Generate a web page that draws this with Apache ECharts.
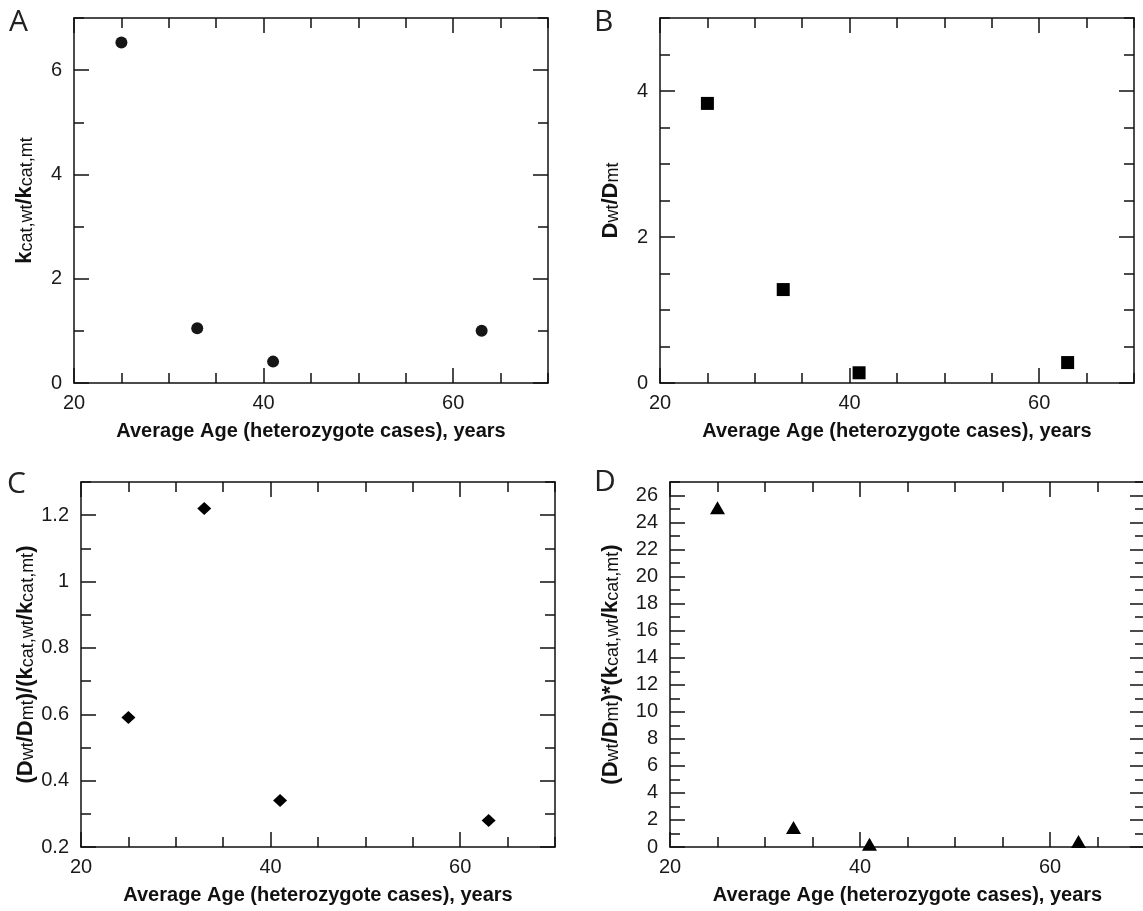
<!DOCTYPE html>
<html>
<head>
<meta charset="utf-8">
<script src="https://cdn.jsdelivr.net/npm/echarts@6/dist/echarts.min.js"></script>
<style>
html,body{margin:0;padding:0;background:#fff;}
#chart{width:1143px;height:911px;}
</style>
</head>
<body>
<div id="chart"></div>
<script>
// ---- data ----
const ages = [25, 33, 41, 63];
const kcatRatio = [6.53, 1.05, 0.41, 1.0];          // A
const dRatio = [3.83, 1.28, 0.14, 0.28];            // B
const dOverK = [0.59, 1.22, 0.34, 0.28];            // C
const dTimesK = [25.1, 1.45, 0.2, 0.4];             // D

// tick labels
const xTickLabels = [20, 40, 60];
const yTickLabelsA = [0, 2, 4, 6];
const yTickLabelsB = [0, 2, 4];
const yTickLabelsC = [0.2, 0.4, 0.6, 0.8, 1, 1.2];
const yTickLabelsD = [0, 2, 4, 6, 8, 10, 12, 14, 16, 18, 20, 22, 24, 26];

const xTitle = 'Average Age (heterozygote cases), years';

// ---- styling / layout ----
const FONT = "'Liberation Sans', Arial, sans-serif";
const axisLineStyle = { color: '#111', width: 1.5 };
const labelStyle = { fontSize: 20, color: '#1a1a1a', fontFamily: FONT };
const boldStyle = { fontSize: 22, fontWeight: 'bold', color: '#111', fontFamily: FONT, verticalAlign: 'bottom', lineHeight: 22 };
const subStyle = { fontSize: 18, fontWeight: 'normal', color: '#111', fontFamily: FONT, verticalAlign: 'bottom', lineHeight: 22 };

const panels = [
  { letter: 'A', letterPos: [9, 7], grid: { left: 74, top: 18, width: 474, height: 365 },
    y: { min: 0, max: 7, minor: 1, labels: yTickLabelsA }, data: kcatRatio,
    symbol: 'circle', size: 12, color: '#161616',
    yName: '{b|k}{s|cat,wt}{b|/k}{s|cat,mt}', yNameGap: 38 },
  { letter: 'B', letterPos: [594, 7], grid: { left: 660, top: 18, width: 474, height: 365 },
    y: { min: 0, max: 5, minor: 0.5, labels: yTickLabelsB }, data: dRatio,
    symbol: 'rect', size: 13, color: '#000',
    yName: '{b|D}{s|wt}{b|/D}{s|mt}', yNameGap: 38 },
  { letter: 'C', letterPos: [7, 469], grid: { left: 81, top: 482, width: 474, height: 365 },
    y: { min: 0.2, max: 1.3, minor: 0.1, labels: yTickLabelsC }, data: dOverK,
    symbol: 'diamond', size: [14, 13], color: '#000',
    yName: '{b|(D}{s|wt}{b|/D}{s|mt}{b|)/(k}{s|cat,wt}{b|/k}{s|cat,mt}{b|)}', yNameGap: 42 },
  { letter: 'D', letterPos: [594, 467], grid: { left: 670, top: 482, width: 475, height: 365 },
    y: { min: 0, max: 27, minor: 1, labels: yTickLabelsD }, data: dTimesK,
    symbol: 'triangle', size: [15, 13], color: '#000',
    yName: '{b|(D}{s|wt}{b|/D}{s|mt}{b|)*(k}{s|cat,wt}{b|/k}{s|cat,mt}{b|)}', yNameGap: 48 }
];

const grids = [], xAxes = [], yAxes = [], series = [], titles = [];

panels.forEach((p, gi) => {
  grids.push(Object.assign({ containLabel: false, outerBoundsMode: 'none' }, p.grid));
  titles.push({ text: p.letter, left: p.letterPos[0], top: p.letterPos[1], padding: 0,
    textStyle: { fontFamily: "'Open Sans', 'Noto Sans', sans-serif", fontWeight: 'normal', fontSize: 30, color: '#222' } });

  const xBase = { type: 'value', gridIndex: gi, min: 20, max: 70, splitLine: { show: false } };
  const yBase = { type: 'value', gridIndex: gi, min: p.y.min, max: p.y.max, splitLine: { show: false } };

  const xPrimaryIndex = xAxes.length;
  xAxes.push(Object.assign({}, xBase, {
    position: 'bottom', interval: 20,
    axisLine: { show: true, onZero: false, lineStyle: axisLineStyle },
    axisTick: { show: true, inside: true, length: 15, lineStyle: axisLineStyle, customValues: xTickLabels },
    axisLabel: Object.assign({ show: true, margin: 10, customValues: xTickLabels }, labelStyle),
    name: xTitle, nameLocation: 'middle', nameGap: 38,
    nameTextStyle: { fontSize: 20, fontWeight: 'bold', color: '#111', fontFamily: FONT }
  }));
  xAxes.push(Object.assign({}, xBase, {
    position: 'bottom', interval: 5,
    axisLine: { show: false, onZero: false },
    axisTick: { show: true, inside: true, length: 10, lineStyle: axisLineStyle },
    axisLabel: { show: false }
  }));
  xAxes.push(Object.assign({}, xBase, {
    position: 'top', interval: 20,
    axisLine: { show: true, onZero: false, lineStyle: axisLineStyle },
    axisTick: { show: true, inside: true, length: 15, lineStyle: axisLineStyle, customValues: xTickLabels },
    axisLabel: { show: false }
  }));
  xAxes.push(Object.assign({}, xBase, {
    position: 'top', interval: 5,
    axisLine: { show: false, onZero: false },
    axisTick: { show: true, inside: true, length: 10, lineStyle: axisLineStyle },
    axisLabel: { show: false }
  }));

  const yPrimaryIndex = yAxes.length;
  yAxes.push(Object.assign({}, yBase, {
    position: 'left', interval: p.y.minor * 2,
    axisLine: { show: true, onZero: false, lineStyle: axisLineStyle },
    axisTick: { show: true, inside: true, length: 15, lineStyle: axisLineStyle, customValues: p.y.labels },
    axisLabel: Object.assign({ show: true, margin: 12, customValues: p.y.labels }, labelStyle),
    name: p.yName, nameLocation: 'middle', nameRotate: 90, nameGap: p.yNameGap,
    nameTextStyle: { rich: { b: boldStyle, s: subStyle } }
  }));
  yAxes.push(Object.assign({}, yBase, {
    position: 'left', interval: p.y.minor,
    axisLine: { show: false, onZero: false },
    axisTick: { show: true, inside: true, length: 10, lineStyle: axisLineStyle },
    axisLabel: { show: false }
  }));
  yAxes.push(Object.assign({}, yBase, {
    position: 'right', interval: p.y.minor * 2,
    axisLine: { show: true, onZero: false, lineStyle: axisLineStyle },
    axisTick: { show: true, inside: true, length: 15, lineStyle: axisLineStyle, customValues: p.y.labels },
    axisLabel: { show: false }
  }));
  yAxes.push(Object.assign({}, yBase, {
    position: 'right', interval: p.y.minor,
    axisLine: { show: false, onZero: false },
    axisTick: { show: true, inside: true, length: 10, lineStyle: axisLineStyle },
    axisLabel: { show: false }
  }));

  series.push({
    type: 'scatter', xAxisIndex: xPrimaryIndex, yAxisIndex: yPrimaryIndex,
    symbol: p.symbol, symbolSize: p.size, clip: false,
    itemStyle: { color: p.color, opacity: 1 },
    emphasis: { disabled: true },
    data: ages.map((a, i) => [a, p.data[i]]),
    z: 5
  });
});

const chart = echarts.init(document.getElementById('chart'), null, { renderer: 'canvas' });
chart.setOption({
  backgroundColor: '#fff',
  animation: false,
  title: titles,
  grid: grids,
  xAxis: xAxes,
  yAxis: yAxes,
  series: series
});
</script>
</body>
</html>
